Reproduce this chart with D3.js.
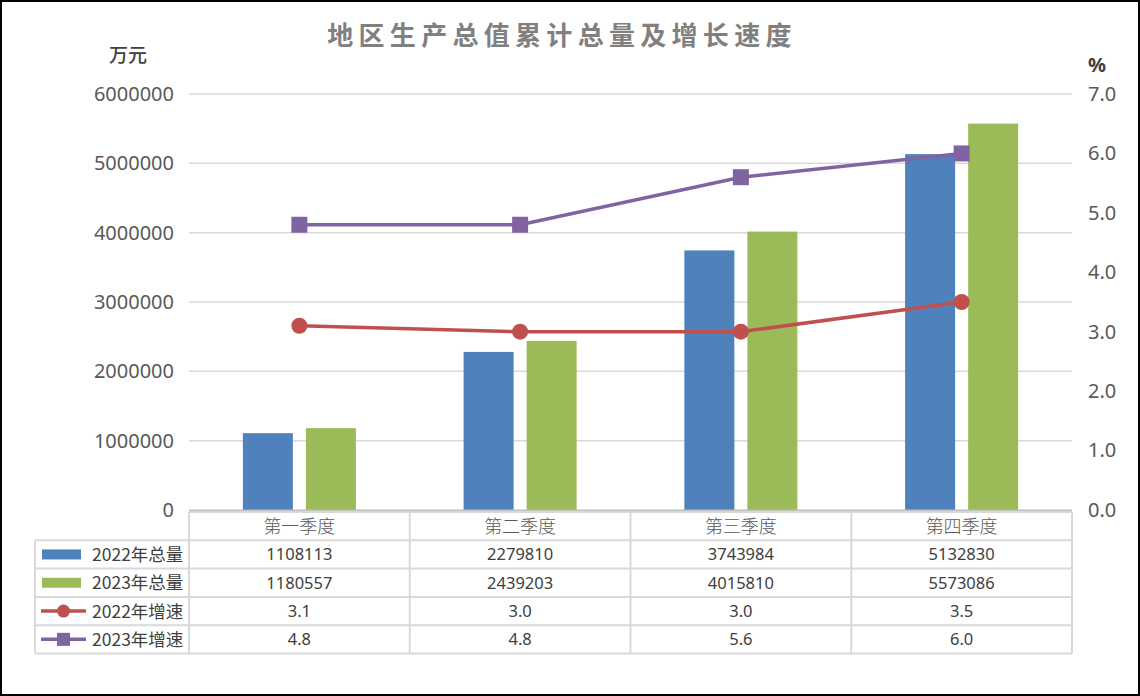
<!DOCTYPE html>
<html>
<head>
<meta charset="utf-8">
<script src="https://cdn.jsdelivr.net/npm/d3@7/dist/d3.min.js"></script>
<style>
  html, body { margin: 0; padding: 0; background: #fff; }
  svg { display: block; }
</style>
</head>
<body>
<svg id="vis" width="1140" height="696"></svg>
<script>
const quarters = ["第一季度", "第二季度", "第三季度", "第四季度"];
const total2022 = [1108113, 2279810, 3743984, 5132830];
const total2023 = [1180557, 2439203, 4015810, 5573086];
const growth2022 = [3.1, 3.0, 3.0, 3.5];
const growth2023 = [4.8, 4.8, 5.6, 6.0];
const leftTicks = [0, 1000000, 2000000, 3000000, 4000000, 5000000, 6000000];
const rightTicks = [0, 1, 2, 3, 4, 5, 6, 7];

const blue = "#4f81bd", green = "#9bbb59", red = "#c0504d", purple = "#8064a2";
const gridColor = "#d9d9d9", textColor = "#595959";
const font = "'Noto Sans', 'Noto Sans CJK SC', sans-serif";

const svg = d3.select("#vis");

// frame
svg.append("rect")
  .attr("x", 1).attr("y", 1).attr("width", 1138).attr("height", 694)
  .attr("fill", "#fff").attr("stroke", "#000").attr("stroke-width", 2);

const plotLeft = 189, plotRight = 1072, plotTop = 94, plotBottom = 510;

// SCALES
const x = d3.scaleBand().domain(quarters).range([plotLeft, plotRight]);
const yL = d3.scaleLinear().domain([0, 6000000]).range([plotBottom, plotTop]);
const yR = d3.scaleLinear().domain([0, 7]).range([plotBottom, plotTop]);
const cx = q => x(q) + x.bandwidth() / 2;
const barW = x.bandwidth() * 0.2265;
const gap = x.bandwidth() * 0.0295;

// title
svg.append("text")
  .attr("x", 562).attr("y", 45)
  .attr("text-anchor", "middle")
  .style("font-family", "'Noto Sans CJK SC', sans-serif")
  .style("font-weight", "bold")
  .style("font-size", "26px")
  .style("letter-spacing", "5.3px")
  .style("fill", "#808080")
  .text("地区生产总值累计总量及增长速度");

// units
svg.append("text").attr("x", 128).attr("y", 62).attr("text-anchor", "middle")
  .style("font-family", "'Noto Sans CJK SC', sans-serif").style("font-size", "19px")
  .style("font-weight", 500)
  .style("fill", "#404040").text("万元");
svg.append("text").attr("x", 1097).attr("y", 72).attr("text-anchor", "middle")
  .style("font-family", font).style("font-size", "20px").style("font-weight", "bold")
  .style("fill", "#404040").text("%");

// gridlines
svg.append("g")
  .selectAll("line")
  .data(leftTicks.filter(d => d > 0))
  .join("line")
  .attr("x1", plotLeft).attr("x2", plotRight)
  .attr("y1", d => yL(d)).attr("y2", d => yL(d))
  .attr("stroke", gridColor).attr("stroke-width", 1.5);

// left axis
const axisL = d3.axisLeft(yL).tickValues(leftTicks).tickFormat(d3.format("d")).tickSize(0).tickPadding(15);
const gL = svg.append("g").attr("transform", `translate(${plotLeft},0)`).call(axisL);
gL.select(".domain").remove();
gL.selectAll("text").style("font-family", font).style("font-size", "20px").style("fill", textColor);

// right axis
const axisR = d3.axisRight(yR).tickValues(rightTicks).tickFormat(d3.format(".1f")).tickSize(0).tickPadding(16);
const gR = svg.append("g").attr("transform", `translate(${plotRight},0)`).call(axisR);
gR.select(".domain").remove();
gR.selectAll("text").style("font-family", font).style("font-size", "20px").style("fill", textColor);

// bars
svg.append("g").selectAll("rect")
  .data(quarters)
  .join("rect")
  .attr("x", q => cx(q) - gap - barW)
  .attr("y", (q, i) => yL(total2022[i]))
  .attr("width", barW)
  .attr("height", (q, i) => plotBottom - yL(total2022[i]))
  .attr("fill", blue);

svg.append("g").selectAll("rect")
  .data(quarters)
  .join("rect")
  .attr("x", q => cx(q) + gap)
  .attr("y", (q, i) => yL(total2023[i]))
  .attr("width", barW)
  .attr("height", (q, i) => plotBottom - yL(total2023[i]))
  .attr("fill", green);

// lines
const line = d3.line().x((d, i) => cx(quarters[i])).y(d => yR(d));

svg.append("path").datum(growth2022)
  .attr("d", line).attr("fill", "none").attr("stroke", red).attr("stroke-width", 3.5);
svg.append("g").selectAll("circle")
  .data(growth2022)
  .join("circle")
  .attr("cx", (d, i) => cx(quarters[i])).attr("cy", d => yR(d))
  .attr("r", 8).attr("fill", red);

svg.append("path").datum(growth2023)
  .attr("d", line).attr("fill", "none").attr("stroke", purple).attr("stroke-width", 3.5);
svg.append("g").selectAll("rect")
  .data(growth2023)
  .join("rect")
  .attr("x", (d, i) => cx(quarters[i]) - 8).attr("y", d => yR(d) - 8)
  .attr("width", 16).attr("height", 16).attr("fill", purple);

// data table
const tableLeft = 35, rowH = 28.3, headTop = 512;
const rowTops = [headTop, headTop + rowH, headTop + rowH * 2, headTop + rowH * 3, headTop + rowH * 4];
const tableBottom = headTop + rowH * 5;
const rows = [
  { name: "2022年总量", values: total2022, type: "bar", color: blue },
  { name: "2023年总量", values: total2023, type: "bar", color: green },
  { name: "2022年增速", values: growth2022.map(d => d.toFixed(1)), type: "circle", color: red },
  { name: "2023年增速", values: growth2023.map(d => d.toFixed(1)), type: "square", color: purple }
];

const t = svg.append("g");
// axis line / table top
t.append("line").attr("x1", plotLeft).attr("x2", plotRight).attr("y1", plotBottom + 0.5).attr("y2", plotBottom + 0.5)
  .attr("stroke", "#bfbfbf").attr("stroke-width", 2);

// horizontal lines
t.append("line").attr("x1", plotLeft).attr("x2", plotRight).attr("y1", headTop).attr("y2", headTop)
  .attr("stroke", gridColor).attr("stroke-width", 2);
rowTops.slice(1).concat([tableBottom]).forEach(yy => {
  t.append("line").attr("x1", tableLeft).attr("x2", plotRight).attr("y1", yy).attr("y2", yy)
    .attr("stroke", gridColor).attr("stroke-width", 2);
});
// vertical lines
t.append("line").attr("x1", tableLeft).attr("x2", tableLeft).attr("y1", rowTops[1]).attr("y2", tableBottom)
  .attr("stroke", gridColor).attr("stroke-width", 2);
quarters.forEach(q => {
  t.append("line").attr("x1", x(q)).attr("x2", x(q)).attr("y1", headTop).attr("y2", tableBottom)
    .attr("stroke", gridColor).attr("stroke-width", 2);
});
t.append("line").attr("x1", plotRight).attr("x2", plotRight).attr("y1", headTop).attr("y2", tableBottom)
  .attr("stroke", gridColor).attr("stroke-width", 2);

// header labels
t.selectAll(".head")
  .data(quarters)
  .join("text")
  .attr("class", "head")
  .attr("x", q => cx(q)).attr("y", headTop + rowH / 2 + 6.5)
  .attr("text-anchor", "middle")
  .style("font-family", "'Noto Sans CJK SC', sans-serif")
  .style("font-weight", 300)
  .style("font-size", "18px")
  .style("fill", textColor)
  .text(q => q);

rows.forEach((r, ri) => {
  const yMid = rowTops[ri + 1] + rowH / 2;
  // legend key
  if (r.type === "bar") {
    t.append("rect").attr("x", 42).attr("y", yMid - 5).attr("width", 39).attr("height", 10).attr("fill", r.color);
  } else {
    t.append("line").attr("x1", 41).attr("x2", 86).attr("y1", yMid).attr("y2", yMid)
      .attr("stroke", r.color).attr("stroke-width", 3.5);
    if (r.type === "circle") {
      t.append("circle").attr("cx", 63.5).attr("cy", yMid).attr("r", 6.5).attr("fill", r.color);
    } else {
      t.append("rect").attr("x", 57).attr("y", yMid - 6.5).attr("width", 13).attr("height", 13).attr("fill", r.color);
    }
  }
  t.append("text").attr("x", 92).attr("y", yMid + 6.5)
    .style("font-family", "'Noto Sans CJK SC', sans-serif").style("font-size", "17.5px")
    .style("fill", "#404040").text(r.name);
  t.selectAll(null)
    .data(r.values)
    .join("text")
    .attr("x", (d, i) => cx(quarters[i])).attr("y", yMid + 6)
    .attr("text-anchor", "middle")
    .style("font-family", font).style("font-size", "16.5px")
    .style("fill", "#404040")
    .text(d => d);
});
</script>
</body>
</html>
